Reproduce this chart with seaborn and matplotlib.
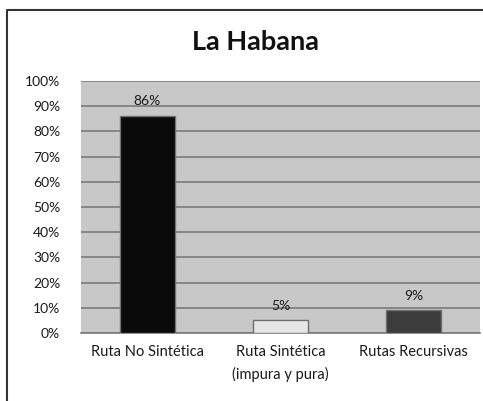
import matplotlib
matplotlib.use("Agg")
import matplotlib.pyplot as plt
import seaborn as sns
import pandas as pd
from matplotlib.lines import Line2D

categories = ["Ruta No Sintética", "Ruta Sintética\n(impura y pura)", "Rutas Recursivas"]
values = [86, 5, 9]
labels = ["86%", "5%", "9%"]
yticks = [0, 10, 20, 30, 40, 50, 60, 70, 80, 90, 100]
ytick_labels = [f"{v}%" for v in yticks]
title = "La Habana"

sns.set_theme(style="white")
plt.rcParams['font.family'] = ['Lato', 'DejaVu Sans']

W, H = 483, 401
fig = plt.figure(figsize=(W / 100, H / 100), dpi=100)
fig.patch.set_facecolor("white")

ax = fig.add_axes([81 / W, (H - 333) / H, 399 / W, 252 / H])
df = pd.DataFrame({"cat": categories, "val": values})
colors = ["#0a0a0a", "#e6e6e6", "#3c3c3c"]
sns.barplot(data=df, x="cat", y="val", hue="cat", palette=colors, width=0.41,
            legend=False, ax=ax, zorder=3, edgecolor="#6e6e6e", linewidth=1)

ax.set_facecolor("#c8c8c8")
ax.set_ylim(0, 100)
ax.set_yticks(yticks)
ax.set_yticklabels(ytick_labels, fontsize=10, color="#1a1a1a")
ax.yaxis.grid(True, color="#7a7a7a", linewidth=1.2, zorder=0)
ax.set_axisbelow(True)
ax.tick_params(axis="y", length=0, pad=15)
ax.tick_params(axis="x", length=0, pad=9, labelsize=10.5, labelcolor="#1a1a1a")
for t in ax.get_xticklabels():
    t.set_linespacing(1.6)
ax.set_xlabel("")
ax.set_ylabel("")
for s in ["top", "right", "left"]:
    ax.spines[s].set_visible(False)
ax.spines["bottom"].set_color("#7a7a7a")
ax.spines["bottom"].set_linewidth(1.2)

for i, (v, lab) in enumerate(zip(values, labels)):
    ax.text(i, v + 3.5, lab, ha="center", va="bottom", fontsize=10, color="#1a1a1a")

fig.text(256 / W, 1 - 42 / H, title, ha="center", va="center",
         fontsize=19.5, fontweight="bold", color="#111111")

# outer chart frame
fig.add_artist(Line2D([7 / W, 7 / W, 1.01], [-0.01, 1 - 10 / H, 1 - 10 / H],
                      transform=fig.transFigure, color="#333333", linewidth=1.5))

fig.savefig("out.png", dpi=100)
